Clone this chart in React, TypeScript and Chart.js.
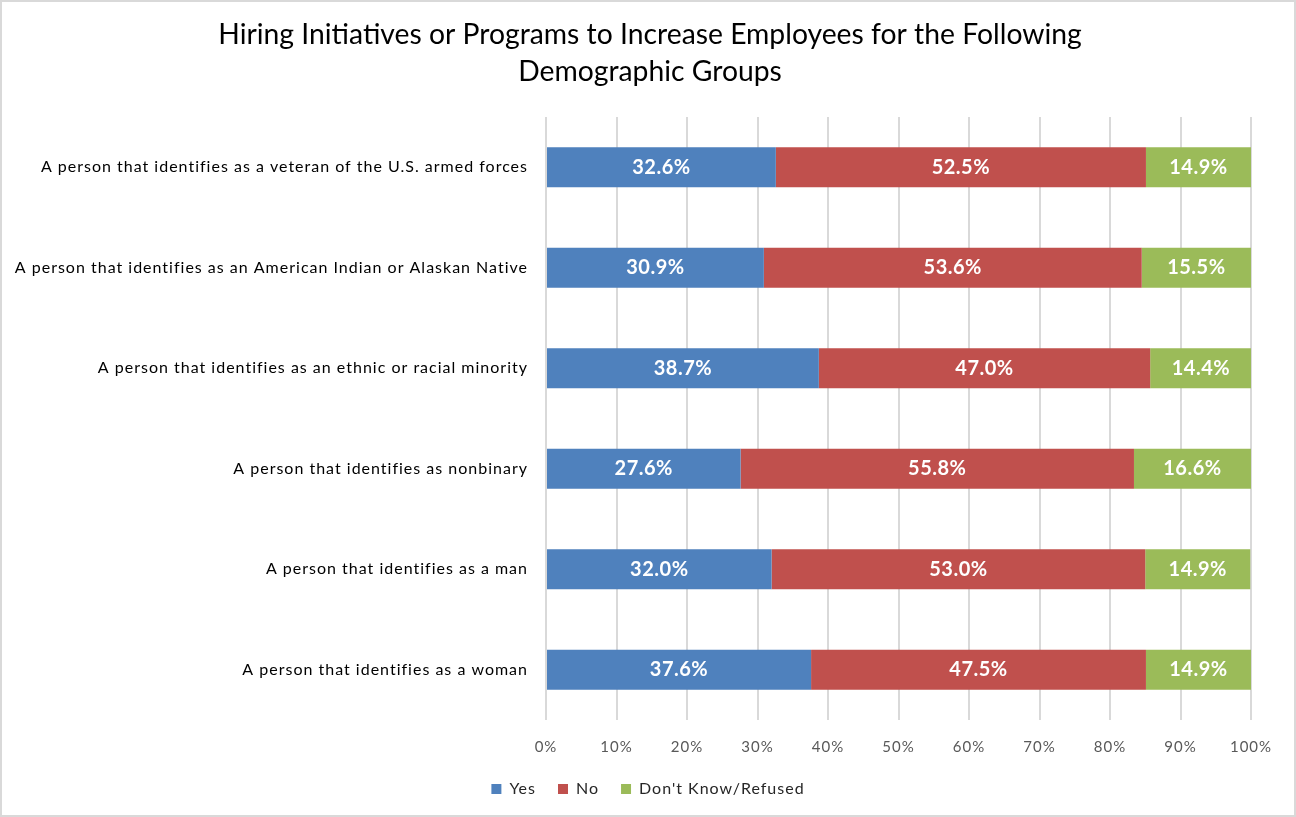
import React, { useEffect, useRef } from "react";
import { Chart, registerables } from "chart.js";

Chart.register(...registerables);

const TITLE_LINES = [
  "Hiring Initiatives or Programs to Increase Employees for the Following",
  "Demographic Groups",
];

const CATEGORIES = [
  "A person that identifies as a veteran of the U.S. armed forces",
  "A person that identifies as an American Indian or Alaskan Native",
  "A person that identifies as an ethnic or racial minority",
  "A person that identifies as nonbinary",
  "A person that identifies as a man",
  "A person that identifies as a woman",
];

const YES = [32.6, 30.9, 38.7, 27.6, 32.0, 37.6];
const NO = [52.5, 53.6, 47.0, 55.8, 53.0, 47.5];
const DONT_KNOW = [14.9, 15.5, 14.4, 16.6, 14.9, 14.9];

const SERIES_NAMES = ["Yes", "No", "Don't Know/Refused"];
const COLORS = ["#4F81BD", "#C0504D", "#9BBB59"];

const FONT = "Lato, 'Open Sans', sans-serif";

const spacingPlugin = {
  id: "spacing",
  beforeUpdate(chart: any) {
    chart.ctx.letterSpacing = "1px";
  },
  beforeLayout(chart: any) {
    chart.ctx.letterSpacing = "1px";
  },
  beforeDraw(chart: any) {
    chart.ctx.letterSpacing = "1px";
  },
};

const dataLabelPlugin = {
  id: "segLabels",
  afterDatasetsDraw(chart: any) {
    const ctx = chart.ctx;
    ctx.save();
    ctx.letterSpacing = "0.5px";
    ctx.fillStyle = "#FFFFFF";
    ctx.font = `bold 20px ${FONT}`;
    ctx.textAlign = "center";
    ctx.textBaseline = "middle";
    chart.data.datasets.forEach((ds: any, di: number) => {
      const meta = chart.getDatasetMeta(di);
      meta.data.forEach((el: any, i: number) => {
        const v = ds.data[i];
        const cx = (el.x + el.base) / 2;
        ctx.fillText(v.toFixed(1) + "%", cx, el.y);
      });
    });
    ctx.restore();
  },
};

const titlePlugin = {
  id: "customTitle",
  afterDraw(chart: any) {
    const ctx = chart.ctx;
    ctx.save();
    ctx.letterSpacing = "0px";
    ctx.fillStyle = "#000000";
    ctx.font = `normal 28.3px ${FONT}`;
    ctx.textAlign = "center";
    ctx.textBaseline = "middle";
    const cx = chart.width / 2 + 2;
    ctx.fillText(TITLE_LINES[0], cx, 35);
    ctx.fillText(TITLE_LINES[1], cx, 72);
    ctx.restore();
  },
};

export default function App() {
  const ref = useRef<HTMLCanvasElement | null>(null);

  useEffect(() => {
    document.body.style.margin = "0";
    const canvas = ref.current;
    if (!canvas) return;
    const chart = new Chart(canvas, {
      type: "bar",
      data: {
        labels: CATEGORIES,
        datasets: [
          { label: SERIES_NAMES[0], data: YES, backgroundColor: COLORS[0] },
          { label: SERIES_NAMES[1], data: NO, backgroundColor: COLORS[1] },
          { label: SERIES_NAMES[2], data: DONT_KNOW, backgroundColor: COLORS[2] },
        ],
      },
      options: {
        indexAxis: "y",
        responsive: false,
        animation: false,
        devicePixelRatio: 1,
        layout: { padding: { top: 117, left: 0, right: 0, bottom: 10 } },
        datasets: {
          bar: { categoryPercentage: 1, barPercentage: 0.4 },
        } as any,
        scales: {
          x: {
            stacked: true,
            min: 0,
            max: 100,
            border: { display: false },
            grid: { color: "#D9D9D9", lineWidth: 2, drawTicks: false },
            ticks: {
              stepSize: 10,
              padding: 18,
              color: "#595959",
              font: { family: FONT, size: 15 },
              callback: (v: any) => v + "%",
            },
            afterFit: (s: any) => {
              s.height = 39;
            },
          },
          y: {
            stacked: true,
            border: { display: false },
            grid: { display: false, drawTicks: false },
            ticks: {
              padding: 18,
              color: "#000000",
              font: { family: FONT, size: 16 },
            },
            afterFit: (s: any) => {
              s.width = 546;
            },
          },
          yRight: {
            type: "category",
            position: "right",
            display: true,
            border: { display: false },
            grid: { display: false, drawTicks: false },
            ticks: { display: false },
            afterFit: (s: any) => {
              s.width = 45;
            },
          },
        },
        plugins: {
          title: { display: false },
          legend: {
            position: "bottom",
            labels: {
              boxWidth: 10,
              boxHeight: 10,
              padding: 22,
              color: "#262626",
              font: { family: FONT, size: 16 },
            },
          },
          tooltip: { enabled: false },
        },
      },
      plugins: [spacingPlugin, dataLabelPlugin, titlePlugin],
    } as any);
    return () => chart.destroy();
  }, []);

  return (
    <div style={{ position: "absolute", left: 0, top: 0, width: 1296, height: 817, background: "#fff" }}>
      <canvas ref={ref} width={1296} height={817} style={{ position: "absolute", left: 0, top: 0 }} />
      <div
        style={{
          position: "absolute",
          left: 0,
          top: 0,
          width: 1296,
          height: 817,
          boxSizing: "border-box",
          border: "2px solid #D9D9D9",
          pointerEvents: "none",
        }}
      />
    </div>
  );
}
